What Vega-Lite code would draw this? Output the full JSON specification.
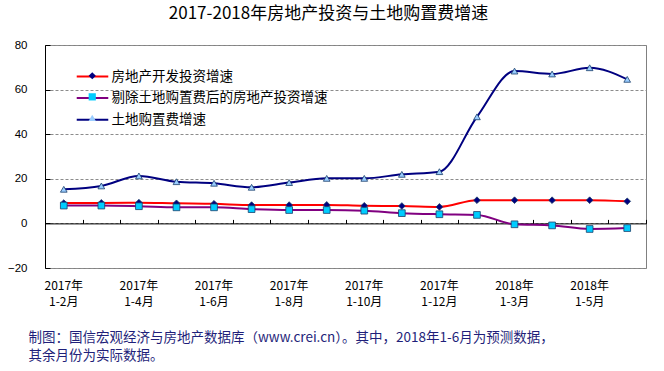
{
  "$schema": "https://vega.github.io/schema/vega-lite/v6.json",
  "width": 601,
  "height": 223,
  "autosize": "none",
  "padding": {"left": 45, "top": 45, "right": 18, "bottom": 103},
  "background": "white",
  "config": {"view": {"stroke": "#808080", "strokeWidth": 1}, "font": "Noto Sans CJK SC"},
  "title": {"text": "2017-2018年房地产投资与土地购置费增速", "fontSize": 17, "fontWeight": "normal", "font": "Noto Sans CJK SC", "color": "#000000", "anchor": "middle", "frame": "group", "offset": 16, "dx": -17},
  "data": {"values": [
    {"period": "2017年1-2月", "房地产开发投资增速": 9.1, "剔除土地购置费后的房地产投资增速": 8.0, "土地购置费增速": 15.3},
    {"period": "2017年1-3月", "房地产开发投资增速": 9.2, "剔除土地购置费后的房地产投资增速": 8.0, "土地购置费增速": 16.8},
    {"period": "2017年1-4月", "房地产开发投资增速": 9.3, "剔除土地购置费后的房地产投资增速": 7.7, "土地购置费增速": 21.3},
    {"period": "2017年1-5月", "房地产开发投资增速": 9.0, "剔除土地购置费后的房地产投资增速": 7.2, "土地购置费增速": 18.7},
    {"period": "2017年1-6月", "房地产开发投资增速": 8.8, "剔除土地购置费后的房地产投资增速": 7.2, "土地购置费增速": 18.0},
    {"period": "2017年1-7月", "房地产开发投资增速": 8.2, "剔除土地购置费后的房地产投资增速": 6.4, "土地购置费增速": 16.2},
    {"period": "2017年1-8月", "房地产开发投资增速": 8.2, "剔除土地购置费后的房地产投资增速": 6.0, "土地购置费增速": 18.3},
    {"period": "2017年1-9月", "房地产开发投资增速": 8.3, "剔除土地购置费后的房地产投资增速": 6.0, "土地购置费增速": 20.2},
    {"period": "2017年1-10月", "房地产开发投资增速": 7.9, "剔除土地购置费后的房地产投资增速": 5.7, "土地购置费增速": 20.2},
    {"period": "2017年1-11月", "房地产开发投资增速": 7.8, "剔除土地购置费后的房地产投资增速": 4.6, "土地购置费增速": 22.0},
    {"period": "2017年1-12月", "房地产开发投资增速": 7.4, "剔除土地购置费后的房地产投资增速": 4.1, "土地购置费增速": 23.2},
    {"period": "2018年1-2月", "房地产开发投资增速": 10.4, "剔除土地购置费后的房地产投资增速": 3.8, "土地购置费增速": 47.8},
    {"period": "2018年1-3月", "房地产开发投资增速": 10.4, "剔除土地购置费后的房地产投资增速": -0.4, "土地购置费增速": 68.3},
    {"period": "2018年1-4月", "房地产开发投资增速": 10.4, "剔除土地购置费后的房地产投资增速": -0.9, "土地购置费增速": 67.0},
    {"period": "2018年1-5月", "房地产开发投资增速": 10.4, "剔除土地购置费后的房地产投资增速": -2.5, "土地购置费增速": 69.8},
    {"period": "2018年1-6月", "房地产开发投资增速": 9.9, "剔除土地购置费后的房地产投资增速": -2.1, "土地购置费增速": 64.6}
  ]},
  "layer": [
    {
      "transform": [{"fold": ["房地产开发投资增速", "剔除土地购置费后的房地产投资增速", "土地购置费增速"], "as": ["series", "value"]}],
      "mark": {"type": "line", "interpolate": "monotone", "strokeWidth": 2},
      "encoding": {
        "x": {"field": "period", "type": "ordinal", "sort": null,
          "scale": {"type": "band", "paddingInner": 0, "paddingOuter": 0},
          "axis": {"orient": "bottom", "domain": false, "ticks": false, "grid": false, "labelAngle": 0, "labelOverlap": false,
            "labelExpr": "indexof(['2017年1-2月','2017年1-4月','2017年1-6月','2017年1-8月','2017年1-10月','2017年1-12月','2018年1-3月','2018年1-5月'], datum.value) >= 0 ? [substring(datum.value,0,5), substring(datum.value,5)] : ''",
            "labelFont": "Noto Sans CJK SC", "labelFontSize": 12, "labelColor": "#000000", "labelPadding": 12, "labelLineHeight": 16, "labelBaseline": "top",
            "title": "制图：国信宏观经济与房地产数据库（www.crei.cn）。其中，2018年1-6月为预测数据，",
            "titleFont": "Noto Sans CJK SC", "titleFontSize": 13.5, "titleFontWeight": "normal", "titleColor": "#1f1f7a",
            "titleAnchor": "start", "titleAlign": "left", "titleBaseline": "top", "titleX": -17, "titleY": 62.5}},
        "y": {"field": "value", "type": "quantitative",
          "scale": {"domain": [-20, 80], "nice": false, "zero": false},
          "axis": {"values": [-20, 0, 20, 40, 60, 80], "title": null, "grid": true, "gridDash": [3, 2], "gridColor": "#8c8c8c",
            "domainColor": "#000000", "tickColor": "#000000", "tickSize": -5, "labelPadding": 23,
            "labelFont": "Liberation Sans", "labelFontSize": 11.5, "labelColor": "#000000"}},
        "stroke": {"field": "series", "type": "nominal", "sort": ["房地产开发投资增速", "剔除土地购置费后的房地产投资增速", "土地购置费增速"],
          "scale": {"range": ["#FF0000", "#800080", "#000080"]},
          "legend": {"orient": "none", "legendX": 37, "legendY": 21, "title": null, "symbolType": "M-1.66,0H1.66", "symbolSize": 361,
            "symbolStrokeWidth": 2, "labelFont": "Noto Sans CJK SC", "labelFontSize": 13.5, "labelColor": "#000000", "labelOffset": 8.6,
            "rowPadding": 4.6, "zindex": 1, "labelLimit": 400, "padding": 0}}
      }
    },
    {
      "transform": [{"fold": ["房地产开发投资增速", "剔除土地购置费后的房地产投资增速", "土地购置费增速"], "as": ["marker", "value"]}],
      "mark": {"type": "point", "filled": true, "size": 45, "stroke": "#1b3f6b", "strokeWidth": 0.8, "opacity": 1},
      "encoding": {
        "x": {"field": "period", "type": "ordinal", "sort": null,
          "axis": {"orient": "bottom", "offset": -44.6, "labels": false, "grid": false,
            "domainColor": "#000000", "domainWidth": 1, "tickColor": "#000000", "tickSize": -4, "tickBand": "extent",
            "title": "其余月份为实际数据。",
            "titleFont": "Noto Sans CJK SC", "titleFontSize": 13.5, "titleFontWeight": "normal", "titleColor": "#1f1f7a",
            "titleAnchor": "start", "titleAlign": "left", "titleBaseline": "top", "titleX": -17, "titleY": 125.5}},
        "y": {"field": "value", "type": "quantitative"},
        "shape": {"field": "marker", "type": "nominal",
          "scale": {"domain": ["房地产开发投资增速", "剔除土地购置费后的房地产投资增速", "土地购置费增速"], "range": ["diamond", "square", "triangle-up"]},
          "legend": {"orient": "none", "legendX": 40.5, "legendY": 24, "title": null, "symbolSize": 52, "labelExpr": "''", "labelFontSize": 13.5,
            "rowPadding": 6.1, "zindex": 2, "padding": 0, "symbolStrokeColor": "#1b3f6b", "symbolStrokeWidth": 0.8}},
        "fill": {"field": "marker", "type": "nominal",
          "scale": {"domain": ["房地产开发投资增速", "剔除土地购置费后的房地产投资增速", "土地购置费增速"], "range": ["#000080", "#00CCFF", "#99CCFF"]},
          "legend": {"orient": "none", "legendX": 40.5, "legendY": 24, "title": null, "symbolSize": 52, "labelExpr": "''", "labelFontSize": 13.5,
            "rowPadding": 6.1, "zindex": 2, "padding": 0, "symbolStrokeColor": "#1b3f6b", "symbolStrokeWidth": 0.8}}
      }
    }
  ],
  "resolve": {"axis": {"x": "independent"}}
}
